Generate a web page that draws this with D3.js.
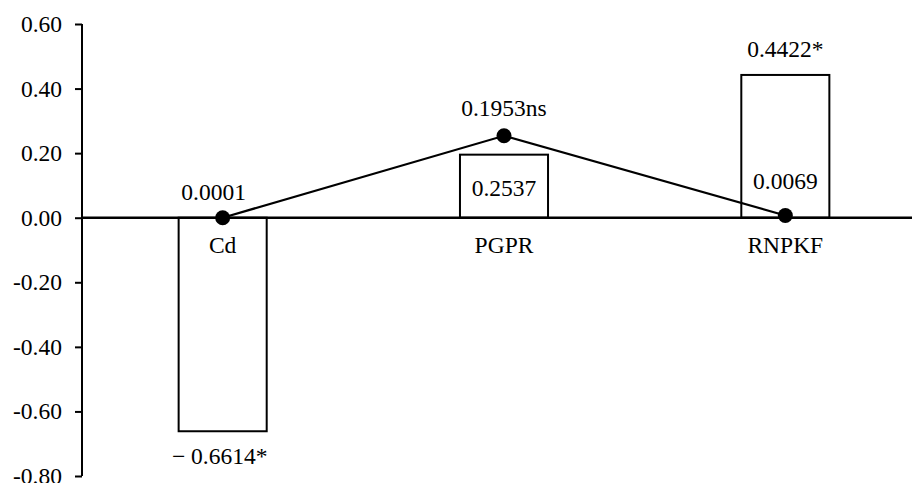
<!DOCTYPE html>
<html>
<head>
<meta charset="utf-8">
<script src="https://cdn.jsdelivr.net/npm/d3@7"></script>
<style>
  html, body { margin: 0; padding: 0; background: #fff; }
  svg { display: block; }
  text { font-family: "Liberation Serif", "Times New Roman", serif; fill: #000; }
</style>
</head>
<body>
<svg id="chart" width="912" height="483"></svg>
<script>
// ---- data ----
const categories = ["Cd", "PGPR", "RNPKF"];
const barValues = [-0.6614, 0.1953, 0.4422];
const lineValues = [0.0001, 0.2537, 0.0069];
const barLabels = ["\u2212 0.6614*", "0.2537", "0.4422*"];
const lineLabels = ["0.0001", "0.1953ns", "0.0069"];
const yTicks = [-0.8, -0.6, -0.4, -0.2, 0, 0.2, 0.4, 0.6];
const yTickLabels = ["-0.80", "-0.60", "-0.40", "-0.20", "0.00", "0.20", "0.40", "0.60"];

// ---- layout ----
const svg = d3.select("#chart");
const fs = 23.5;
const x = d3.scaleBand().domain(categories).range([82, 926])
  .paddingInner(0.687).paddingOuter(0.3435);
const y = d3.scaleLinear().domain([-0.8, 0.6]).range([476, 24]);
const cx = c => x(c) + x.bandwidth() / 2;

// y axis
const yAxis = d3.axisLeft(y).tickValues(yTicks).tickSize(7).tickPadding(13)
  .tickFormat((d, i) => yTickLabels[i]);
const gy = svg.append("g").attr("transform", "translate(82,0)").call(yAxis);
gy.select(".domain").attr("stroke", "#000").attr("stroke-width", 2)
  .attr("d", `M0,${y(-0.8)}V${y(0.6)}`);
gy.selectAll(".tick line").attr("stroke", "#000").attr("stroke-width", 2);
gy.selectAll(".tick text").attr("font-size", fs)
  .attr("font-family", "Liberation Serif").attr("fill", "#000");

// bars
svg.append("g").selectAll("rect").data(categories).join("rect")
  .attr("x", c => x(c))
  .attr("width", x.bandwidth())
  .attr("y", (c, i) => y(Math.max(0, barValues[i])))
  .attr("height", (c, i) => Math.abs(y(barValues[i]) - y(0)))
  .attr("fill", "#fff").attr("stroke", "#000").attr("stroke-width", 2);

// x axis line at zero
svg.append("line")
  .attr("x1", x.range()[0]).attr("x2", x.range()[1])
  .attr("y1", y(0)).attr("y2", y(0))
  .attr("stroke", "#000").attr("stroke-width", 2.5);

// category labels
svg.append("g").selectAll("text").data(categories).join("text")
  .attr("x", c => cx(c)).attr("y", y(0) + 35)
  .attr("text-anchor", "middle").attr("font-size", fs)
  .text(c => c);

// line
const line = d3.line().x((d, i) => cx(categories[i])).y(d => y(d));
svg.append("path").datum(lineValues).attr("d", line)
  .attr("fill", "none").attr("stroke", "#000").attr("stroke-width", 2.2);
svg.append("g").selectAll("circle").data(lineValues).join("circle")
  .attr("cx", (d, i) => cx(categories[i])).attr("cy", d => y(d))
  .attr("r", 7.5).attr("fill", "#000");

// line labels (positions relative to points)
const lineLabelOffsets = [[-9, -18], [0, -20], [0, -26]];
svg.append("g").selectAll("text").data(lineLabels).join("text")
  .attr("x", (d, i) => cx(categories[i]) + lineLabelOffsets[i][0])
  .attr("y", (d, i) => y(lineValues[i]) + lineLabelOffsets[i][1])
  .attr("text-anchor", "middle").attr("font-size", fs)
  .text(d => d);

// bar labels
const barLabelY = [
  v => y(v) + 33,        // below negative bar
  v => y(v) + 41,        // inside bar
  v => y(v) - 18         // above bar
];
svg.append("g").selectAll("text").data(barLabels).join("text")
  .attr("x", (d, i) => cx(categories[i]) + (i === 0 ? -3 : 0))
  .attr("y", (d, i) => barLabelY[i](barValues[i]))
  .attr("text-anchor", "middle").attr("font-size", fs)
  .text(d => d);
</script>
</body>
</html>
